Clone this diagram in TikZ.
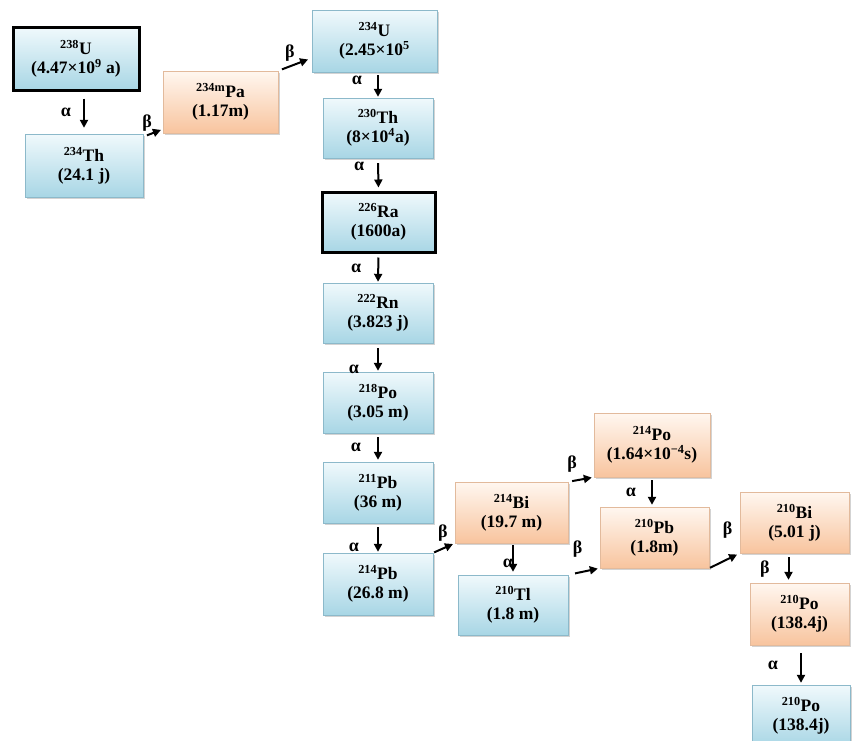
\documentclass[tikz,border=0pt]{standalone}
\usepackage{fontspec}
\setmainfont{Liberation Serif}
\usetikzlibrary{arrows.meta,shadows}
\definecolor{bluetop}{RGB}{240,249,252}
\definecolor{bluebot}{RGB}{168,214,229}
\definecolor{blueline}{RGB}{140,185,202}
\definecolor{orangetop}{RGB}{255,247,240}
\definecolor{orangebot}{RGB}{248,196,158}
\definecolor{orangeline}{RGB}{226,186,156}
\newcommand{\nuc}[3]{\textsuperscript{#1}#2\\#3}
\tikzset{
  box/.style={minimum width=110pt, minimum height=60pt, align=center, inner sep=1pt,
    font=\bfseries\fontsize{17.5}{19}\selectfont,
    drop shadow={shadow xshift=2pt, shadow yshift=-2pt, opacity=0.35}},
  bluebox/.style={box, draw=blueline, top color=bluetop, bottom color=bluebot},
  orangebox/.style={box, draw=orangeline, top color=orangetop, bottom color=orangebot},
  heavy/.style={draw=black, line width=3pt},
  decay/.style={-{Triangle[length=8pt,width=8pt]}, line width=2pt, shorten <=4pt, shorten >=2pt},
  lab/.style={font=\bfseries\fontsize{18}{18}\selectfont, inner sep=0pt}
}
\begin{document}
\begin{tikzpicture}[x=1pt,y=-1pt]
  \path[use as bounding box] (0,0) rectangle (852,740);
  \clip (0,0) rectangle (852,740);
  \node[bluebox, heavy, minimum width=126pt, minimum height=63pt] (u238) at (76,58.5) {\nuc{238}{U}{(4.47×10\textsuperscript{9} a)}};
  \node[bluebox, minimum width=118pt, minimum height=63pt] (th234) at (84,165.5) {\nuc{234}{Th}{(24.1 j)}};
  \node[orangebox, minimum width=115pt, minimum height=62pt] (pa234) at (220.5,102) {\nuc{234m}{Pa}{(1.17m)}};
  \node[bluebox, minimum width=125pt, minimum height=62pt] (u234) at (374.5,41) {\nuc{234}{U}{(2.45×10\textsuperscript{5}}};
  \node[bluebox] (th230) at (378,128) {\nuc{230}{Th}{(8×10\textsuperscript{4}a)}};
  \node[bluebox, heavy, minimum width=113pt] (ra226) at (378.5,222) {\nuc{226}{Ra}{(1600a)}};
  \node[bluebox] (rn222) at (378,313) {\nuc{222}{Rn}{(3.823 j)}};
  \node[bluebox, minimum height=61pt] (po218) at (378,402.5) {\nuc{218}{Po}{(3.05 m)}};
  \node[bluebox, minimum height=61pt] (pb211) at (378,492.5) {\nuc{211}{Pb}{(36 m)}};
  \node[bluebox, minimum height=62pt] (pb214) at (378,584) {\nuc{214}{Pb}{(26.8 m)}};
  \node[orangebox, minimum width=113pt, minimum height=61pt] (bi214) at (511.5,512.5) {\nuc{214}{Bi}{(19.7 m)}};
  \node[bluebox] (tl210) at (513,605) {\nuc{210}{Tl}{(1.8 m)}};
  \node[orangebox, minimum width=116pt, minimum height=64pt] (po214) at (652,445) {\nuc{214}{Po}{(1.64×10\textsuperscript{−4}s)}};
  \node[orangebox, minimum width=109pt, minimum height=61pt] (pb210) at (654.5,537.5) {\nuc{210}{Pb}{(1.8m)}};
  \node[orangebox, minimum width=109pt, minimum height=61pt] (bi210) at (794.5,522.5) {\nuc{210}{Bi}{(5.01 j)}};
  \node[orangebox, minimum width=99pt, minimum height=62pt] (po210) at (799.5,614) {\nuc{210}{Po}{(138.4j)}};
  \node[bluebox, minimum width=98pt, minimum height=62pt] (po210b) at (801,716) {\nuc{210}{Po}{(138.4j)}};
  \draw[decay, shorten <=7pt, shorten >=6pt] (u238.south -| th234) -- node[lab, left=12pt] {α} (th234.north);
  \draw[decay, shorten >=2pt] ([yshift=-3pt]th234.north east) -- node[lab, pos=0.2, above=3pt] {β} ([yshift=4pt]pa234.south west);
  \draw[decay, shorten >=4pt] (pa234.north east) -- node[lab, pos=0.35, above=4pt] {β} ([yshift=-17pt]u234.west);
  \draw[decay, shorten <=3pt, shorten >=1pt] (u234.south -| th230) -- node[lab, pos=0.3, left=15pt] {α} (th230.north);
  \draw[decay, shorten <=5pt, shorten >=3pt] (th230.south) -- node[lab, pos=0.25, left=13pt] {α} (ra226.north);
  \draw[decay, shorten >=1pt] (ra226.south) -- node[lab, left=16pt] {α} (rn222.north);
  \draw[decay, shorten <=5pt, shorten >=1pt] (rn222.south) -- node[lab, pos=0.9, left=18pt] {α} (po218.north);
  \draw[decay] (po218.south) -- node[lab, left=16pt] {α} (pb211.north);
  \draw[decay, shorten >=1pt] (pb211.south) -- node[lab, pos=0.8, left=18pt] {α} (pb214.north);
  \draw[decay, shorten <=1pt] (pb214.north east) -- node[lab, pos=0.45, above=6pt] {β} (bi214.south west);
  \draw[decay] (bi214.north east) -- node[lab, pos=0.15, above=8pt] {β} (po214.south west);
  \draw[decay, shorten <=2pt, shorten >=3pt] (bi214.south -| tl210) -- node[lab, pos=0.65, left=-1pt] {α} (tl210.north);
  \draw[decay, shorten <=3pt] (po214.south) -- node[lab, left=15pt] {α} (po214.south |- pb210.north);
  \draw[decay, shorten <=7pt] (tl210.north east) -- node[lab, pos=0.3, above=14pt] {β} (pb210.south west);
  \draw[decay, shorten <=1pt, shorten >=3pt] (pb210.south east) -- node[lab, pos=0.6, above=20pt] {β} (bi210.south west);
  \draw[decay, shorten >=3pt] ([xshift=-6pt]bi210.south) -- node[lab, pos=0.55, left=18pt] {β} ([xshift=-6pt]bi210.south |- po210.north);
  \draw[decay, shorten <=8pt] (po210.south -| po210b) -- node[lab, left=22pt] {α} (po210b.north);
\end{tikzpicture}
\end{document}
